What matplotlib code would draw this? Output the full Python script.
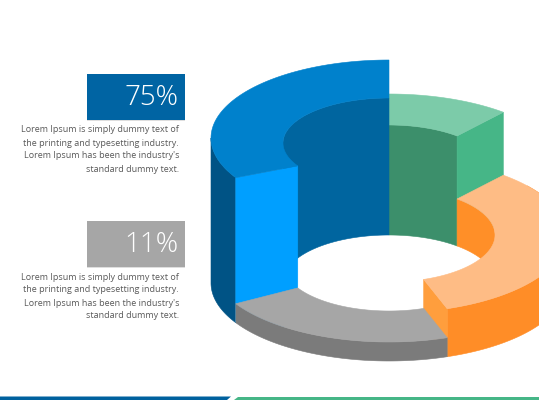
import numpy as np
import matplotlib
matplotlib.use("Agg")
import matplotlib.pyplot as plt
from matplotlib.patches import Polygon, Rectangle

# ---- data -------------------------------------------------------------
slices = ["blue", "gray", "orange", "green"]
shares = [33.5, 21.8, 33.6, 11.1]          # percent of the ring, anticlockwise from 12 o'clock
heights = [145, 19, 48, 111]               # height of each ring segment
callout_values = ["75%", "11%"]
callout_lines = ["Lorem Ipsum is simply dummy text of",
                 "the printing and typesetting industry.",
                 "Lorem Ipsum has been the industry's",
                 "standard dummy text."]

# ---- style ------------------------------------------------------------
col_top = dict(blue="#0081CC", gray="#A6A6A6", orange="#FEBC85", green="#7CCBA9")
col_outer = dict(blue="#005385", gray="#7B7B7B", orange="#FF8D27", green="#46B687")
col_inner = dict(blue="#00659F", gray="#7B7B7B", orange="#FF8F28", green="#3C8F6B")
col_face = dict(blue="#009FFF", gray="#7B7B7B", orange="#FF9E3D", green="#46B687")
inner_ry = dict(blue=45, gray=47, orange=47, green=47)
inner_dy = dict(blue=5, gray=0, orange=0, green=0)

CX, BASE_Y = 389, 283
RX_O, RY_O, RX_I = 178, 78, 106
RY_I = 47
BASE_INNER = 282

fig = plt.figure(figsize=(5.39, 4.00), dpi=100, facecolor="white")
ax = fig.add_axes([0, 0, 1, 1])
ax.set_xlim(0, 539)
ax.set_ylim(400, 0)
ax.axis("off")

# slice angle ranges, from the shares
edges = 90 + np.cumsum([0] + shares) * 3.6
span = {s: (edges[i], edges[i + 1]) for i, s in enumerate(slices)}
height = dict(zip(slices, heights))


def pts(a, rx, ry, cy):
    r = np.radians(a)
    return np.column_stack([CX + rx * np.cos(r), cy - ry * np.sin(r)])


def arc(a0, a1, rx, ry, cy):
    return pts(np.linspace(a0, a1, 120), rx, ry, cy)


def poly(xy, color, z):
    # thin same-colour edge hides seams between pieces
    ax.add_patch(Polygon(xy, closed=True, fc=color, ec=color, lw=0.4, zorder=z))


def draw_top(s, z):
    a0, a1 = span[s]
    cy = BASE_Y - height[s]
    poly(np.vstack([arc(a0, a1, RX_O, RY_O, cy),
                    arc(a1, a0, RX_I, inner_ry[s], cy + inner_dy[s])]), col_top[s], z)


def inner_wall(s, a0, a1, z):
    cy = BASE_Y - height[s]
    poly(np.vstack([arc(a0, a1, RX_I, inner_ry[s], cy + inner_dy[s]),
                    arc(a1, a0, RX_I, RY_I, BASE_INNER)]), col_inner[s], z)


def outer_wall(s, a0, a1, z):
    cy = BASE_Y - height[s]
    poly(np.vstack([arc(a0, a1, RX_O, RY_O, cy),
                    arc(a1, a0, RX_O, RY_O, BASE_Y)]), col_outer[s], z)


def cut_face(s, a, z):
    cy = BASE_Y - height[s]
    poly(np.vstack([pts(np.array([a]), RX_O, RY_O, cy),
                    pts(np.array([a]), RX_I, inner_ry[s], cy + inner_dy[s]),
                    pts(np.array([a]), RX_I, RY_I, BASE_INNER + 22 if s == "blue" else BASE_INNER),
                    pts(np.array([a]), RX_O, RY_O, BASE_Y)]), col_face[s], z)


# green: back right segment
g0, g1 = span["green"]
inner_wall("green", g0, g1, 1)
cut_face("green", g0, 1)
draw_top("green", 2)

# blue: back left segment
b0, b1 = span["blue"]
inner_wall("blue", b0, 180, 3)
outer_wall("blue", 180, b1, 3)
cut_face("blue", b1, 3)
draw_top("blue", 4)

# orange: right segment
o0, o1 = span["orange"]
inner_wall("orange", o1 - 50, o1, 5)
outer_wall("orange", o0, o0 + 110, 5)
cut_face("orange", o0, 5)
draw_top("orange", 6)

# gray: front segment
g_0, g_1 = span["gray"]
outer_wall("gray", g_0, g_1, 7)
draw_top("gray", 8)

# ---- callouts ---------------------------------------------------------
box_cols = ["#0064A3", "#A6A6A6"]
box_tops = [74, 221]
for val, col, top in zip(callout_values, box_cols, box_tops):
    ax.add_patch(Rectangle((87, top + 1), 98, 46, fc="#BFBFBF", ec="none", alpha=0.5, zorder=9))
    ax.add_patch(Rectangle((87, top), 98, 46, fc=col, ec="none", zorder=10))
    ax.text(178, top + 24, val, color="white", fontsize=20, ha="right", va="center",
            family="Open Sans", fontweight="light", zorder=11)
    for i, line in enumerate(callout_lines):
        ax.text(179, top + 56 + i * 13, line, color="#595959", fontsize=6.5, ha="right",
                va="center", family="Open Sans", zorder=11)

# ---- footer bar -------------------------------------------------------
ax.add_patch(Polygon([(0, 396.5), (231, 396.5), (227, 400), (0, 400)], fc="#00619E", ec="none"))
ax.add_patch(Polygon([(238, 396.5), (539, 396.5), (539, 400), (234, 400)], fc="#46B687", ec="none"))

fig.savefig("out.png", dpi=100, facecolor="white")
